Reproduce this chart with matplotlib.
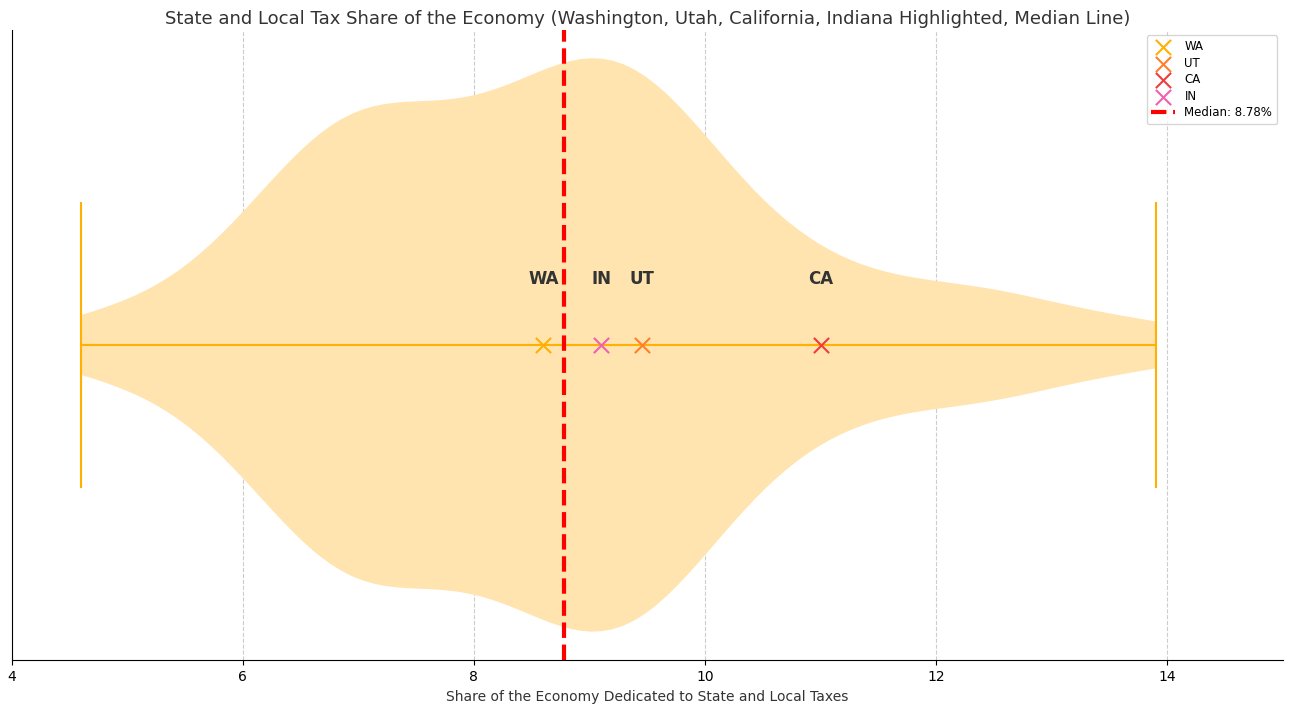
import matplotlib
matplotlib.use("Agg")
import matplotlib.pyplot as plt
import numpy as np

values = [4.6, 5.3, 5.8, 6.0, 6.2, 6.4, 6.5, 6.6, 6.7, 6.8, 6.9, 7.0, 7.0, 7.1, 7.2, 7.3,
          7.4, 7.5, 7.6, 7.8, 7.9, 8.0, 8.1, 8.2, 8.3, 8.4, 8.5, 8.6, 8.7, 8.85, 8.9,
          9.0, 9.0, 9.1, 9.1, 9.2, 9.3, 9.4, 9.45, 9.5, 9.6, 9.7, 9.8, 9.9, 10.0, 10.1,
          10.3, 10.5, 10.8, 11.0, 11.3, 11.8, 12.2, 12.5, 13.0, 13.9]
states = ["WA", "UT", "CA", "IN"]
state_vals = [8.6, 9.45, 11.0, 9.1]
state_colors = ["#FFB000", "#FF7F2A", "#F03C3C", "#F060B0"]
median = 8.78

fig, ax = plt.subplots(figsize=(12.92, 7.04), dpi=100)
vp = ax.violinplot([values], positions=[1], vert=False, widths=1, showextrema=True, bw_method=0.33)
for b in vp['bodies']:
    b.set_facecolor('#FFE4B0'); b.set_edgecolor('none'); b.set_alpha(1)
for k in ('cmins', 'cmaxes', 'cbars'):
    vp[k].set_color('#FFB000'); vp[k].set_linewidth(1.5)
for s, v, c in zip(states, state_vals, state_colors):
    ax.scatter(v, 1, marker='x', s=120, color=c, label=s, zorder=3, linewidths=1.5)
    ax.text(v, 1.115, s, ha='center', va='center', fontsize=12, fontweight='bold', color='#333333')
ax.axvline(median, color='red', linestyle='--', linewidth=3, label=f'Median: {median:.2f}%')
ax.set_xlim(4, 15)
ax.set_ylim(0.45, 1.55)
ax.set_yticks([])
ax.grid(axis='x', linestyle='--', color='#cccccc', linewidth=0.8)
ax.set_axisbelow(True)
for sp in ('top', 'right'):
    ax.spines[sp].set_visible(False)
ax.tick_params(labelsize=10)
ax.set_xlabel('Share of the Economy Dedicated to State and Local Taxes', fontsize=10, color='#333333', labelpad=4)
ax.set_title('State and Local Tax Share of the Economy (Washington, Utah, California, Indiana Highlighted, Median Line)',
             fontsize=13, color='#333333', pad=4)
ax.legend(loc='upper right', fontsize=8.5, labelspacing=0.3)
fig.subplots_adjust(left=0.009, right=0.993, top=0.958, bottom=0.062)
fig.savefig('out.png')
